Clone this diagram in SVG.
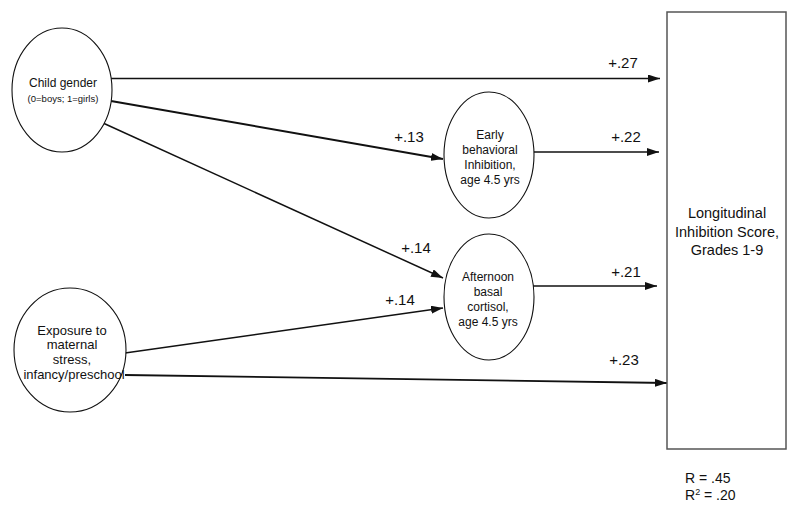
<svg xmlns="http://www.w3.org/2000/svg" width="800" height="514" viewBox="0 0 800 514">
<defs>
<style>
text{font-family:"Liberation Sans",Arial,sans-serif;fill:#111;text-anchor:middle}
.node{fill:#fff;stroke:#111;stroke-width:1.1}
.box{fill:#fff;stroke:#555;stroke-width:1.5}
.edge{stroke:#111;stroke-width:1.5;fill:none;marker-end:url(#ah)}
.lbl{font-size:15px}
.t12{font-size:12px}
.t13{font-size:13px}
</style>
<marker id="ah" markerUnits="userSpaceOnUse" markerWidth="12" markerHeight="8" refX="12" refY="4" orient="auto">
<path d="M0,0 L12,4 L0,8 z" fill="#111"/>
</marker>
</defs>
<rect width="800" height="514" fill="#fff"/>
<g id="connectors">
<line class="edge" x1="111" y1="78.5" x2="660" y2="78.5"/>
<line class="edge" x1="111" y1="101" x2="443" y2="159" style="stroke-width:2"/>
<line class="edge" x1="103" y1="123" x2="443" y2="278"/>
<line class="edge" x1="125" y1="353" x2="443" y2="308"/>
<line class="edge" x1="125" y1="375" x2="667" y2="383" style="stroke-width:1.8"/>
<line class="edge" x1="534" y1="152" x2="659" y2="152"/>
<line class="edge" x1="533" y1="286" x2="657" y2="286"/>
<text class="lbl" x="623" y="68">+.27</text>
<text class="lbl" x="409" y="142">+.13</text>
<text class="lbl" x="626" y="142">+.22</text>
<text class="lbl" x="416" y="253">+.14</text>
<text class="lbl" x="400" y="305">+.14</text>
<text class="lbl" x="626" y="277">+.21</text>
<text class="lbl" x="624" y="365">+.23</text>
</g>
<g id="child-gender">
<ellipse class="node" cx="62" cy="90" rx="50" ry="62"/>
<text class="t12" x="63" y="87">Child gender</text>
<text x="63" y="102" style="font-size:9.5px">(0=boys; 1=girls)</text>
</g>
<g id="maternal-stress">
<ellipse class="node" cx="70" cy="350" rx="56" ry="62"/>
<text class="t13" x="72" y="335">Exposure to</text>
<text class="t13" x="72" y="349">maternal</text>
<text class="t13" x="72" y="364">stress,</text>
<text class="t13" x="74" y="379">infancy/preschool</text>
</g>
<g id="early-bi">
<ellipse class="node" cx="489" cy="155" rx="45" ry="63"/>
<text class="t12" x="490" y="139">Early</text>
<text class="t12" x="490" y="154">behavioral</text>
<text class="t12" x="490" y="169">Inhibition,</text>
<text class="t12" x="490" y="184">age 4.5 yrs</text>
</g>
<g id="cortisol">
<ellipse class="node" cx="489" cy="297" rx="45" ry="63"/>
<text class="t12" x="488" y="281">Afternoon</text>
<text class="t12" x="488" y="296">basal</text>
<text class="t12" x="488" y="311">cortisol,</text>
<text class="t12" x="488" y="326">age 4.5 yrs</text>
</g>
<g id="outcome">
<rect class="box" x="667" y="12" width="119" height="437"/>
<text x="727" y="218" style="font-size:14.5px">Longitudinal</text>
<text x="727" y="237" style="font-size:14.5px">Inhibition Score,</text>
<text x="727" y="255" style="font-size:14.5px">Grades 1-9</text>
</g>
<g id="fit">
<text x="685" y="483" style="font-size:14px;text-anchor:start">R = .45</text>
<text x="685" y="500" style="font-size:14px;text-anchor:start">R<tspan dy="-5" style="font-size:9px">2</tspan><tspan dy="5"> = .20</tspan></text>
</g>
</svg>
